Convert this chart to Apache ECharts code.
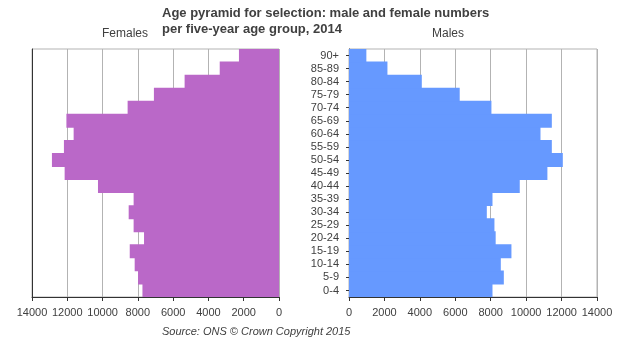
<!DOCTYPE html>
<html>
<head>
<meta charset="utf-8">
<script src="https://cdn.jsdelivr.net/npm/echarts@6/dist/echarts.min.js"></script>
<style>
html,body{margin:0;padding:0;background:#fff;}
#chart{width:619px;height:337px;}
</style>
</head>
<body>
<div id="chart"></div>
<script>
const ageGroups = ['0-4','5-9','10-14','15-19','20-24','25-29','30-34','35-39','40-44','45-49','50-54','55-59','60-64','65-69','70-74','75-79','80-84','85-89','90+'];
const females = [7740, 7990, 8180, 8460, 7650, 8240, 8520, 8240, 10260, 12150, 12870, 12190, 11640, 12050, 8580, 7090, 5350, 3360, 2270];
const males = [8100, 8740, 8570, 9170, 8280, 8210, 7780, 8100, 9640, 11200, 12070, 11450, 10810, 11450, 8040, 6250, 4110, 2170, 980];
const xTicks = {min: 0, max: 14000, interval: 2000};
const titleText = 'Age pyramid for selection: male and female numbers\nper five-year age group, 2014';
const sourceText = 'Source: ONS \u00A9 Crown Copyright 2015';

const FONT = 'Liberation Sans, Arial, sans-serif';
const chart = echarts.init(document.getElementById('chart'), null, {renderer: 'canvas'});

function valueAxis(gridIndex, inverse) {
  return {
    gridIndex: gridIndex, type: 'value', min: xTicks.min, max: xTicks.max, interval: xTicks.interval,
    inverse: inverse,
    axisLine: {show: true, lineStyle: {color: '#333', width: 1}},
    axisTick: {show: true, length: 4, lineStyle: {color: '#333'}},
    axisLabel: {fontSize: 11, color: '#404040', fontFamily: FONT, margin: 10, showMinLabel: true, showMaxLabel: true,
      formatter: function (v) { return String(v); }},
    splitLine: {show: true, lineStyle: {color: '#b3b3b3', width: 1}}
  };
}

const option = {
  animation: false,
  backgroundColor: '#fff',
  title: {
    text: titleText, left: 162, top: 5, padding: 0,
    textStyle: {fontSize: 13, fontWeight: 'bold', color: '#404040', fontFamily: FONT, lineHeight: 16}
  },
  grid: [
    {left: 32, top: 49, width: 247, height: 248, show: true, borderColor: '#b3b3b3', borderWidth: 1, backgroundColor: 'transparent'},
    {left: 349, top: 49, width: 248, height: 248, show: true, borderColor: '#b3b3b3', borderWidth: 1, backgroundColor: 'transparent'}
  ],
  xAxis: [valueAxis(0, true), valueAxis(1, false)],
  yAxis: [
    {gridIndex: 0, type: 'category', data: ageGroups, position: 'left',
     axisLine: {show: true, onZero: false, lineStyle: {color: '#333'}},
     axisTick: {show: false}, axisLabel: {show: false}, splitLine: {show: false}},
    {gridIndex: 1, type: 'category', data: ageGroups, position: 'left',
     axisLine: {show: true, onZero: false, lineStyle: {color: '#333'}},
     axisTick: {show: true, alignWithLabel: true, length: 3, lineStyle: {color: '#333'}},
     axisLabel: {fontSize: 11, color: '#404040', fontFamily: FONT, margin: 10, interval: 0},
     splitLine: {show: false}}
  ],
  series: [
    {name: 'Females', type: 'bar', xAxisIndex: 0, yAxisIndex: 0, data: females,
     barWidth: 14, itemStyle: {color: '#BA68C8'}},
    {name: 'Males', type: 'bar', xAxisIndex: 1, yAxisIndex: 1, data: males,
     barWidth: 14, itemStyle: {color: '#6699FF'}}
  ],
  graphic: [
    {type: 'text', style: {text: 'Females', x: 125, y: 33.5, textAlign: 'center', textVerticalAlign: 'middle', fill: '#404040', font: '12px ' + FONT}},
    {type: 'text', style: {text: 'Males', x: 448, y: 33.5, textAlign: 'center', textVerticalAlign: 'middle', fill: '#404040', font: '12px ' + FONT}},
    {type: 'text', style: {text: sourceText, x: 162, y: 331.5, textAlign: 'left', textVerticalAlign: 'middle', fill: '#404040', font: 'italic 11px ' + FONT}}
  ]
};
chart.setOption(option);
</script>
</body>
</html>
